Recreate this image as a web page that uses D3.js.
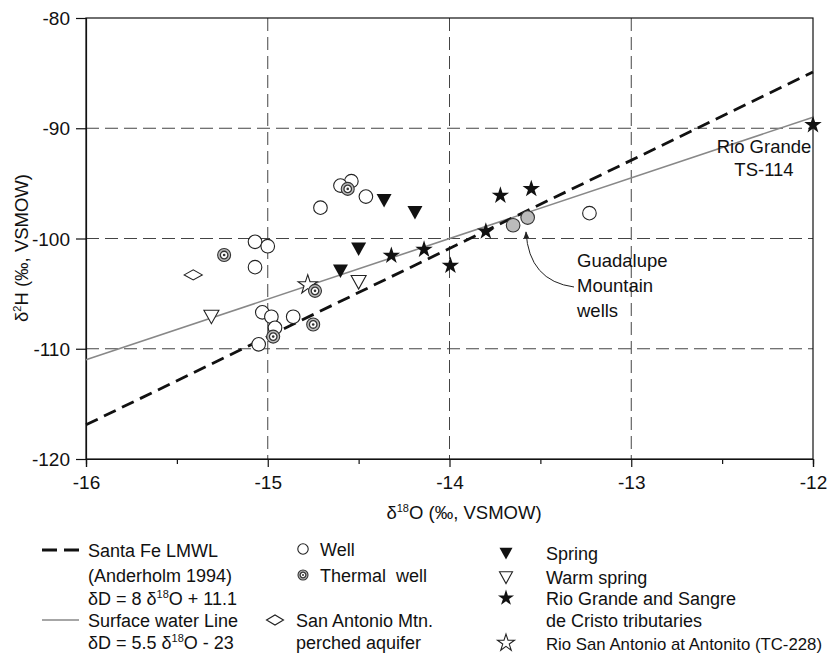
<!DOCTYPE html>
<html>
<head>
<meta charset="utf-8">
<script src="https://cdn.jsdelivr.net/npm/d3@7"></script>
<style>
body { margin: 0; background: #fff; }
svg { display: block; }
text { font-family: "Liberation Sans", Arial, sans-serif; fill: #111; }
</style>
</head>
<body>
<svg id="chart" width="832" height="663"></svg>
<script>
// ---- data ----
const xTicks = [-16, -15, -14, -13, -12];
const xMinorTicks = [-15.5, -14.5, -13.5, -12.5];
const yTicks = [-120, -110, -100, -90, -80];
const xGrid = [-15, -14, -13];
const yGrid = [-110, -100, -90];

const wells = [[-14.54,-94.8],[-14.60,-95.2],[-14.46,-96.2],[-14.71,-97.2],[-15.07,-100.3],[-15.0,-100.7],
  [-15.07,-102.6],[-15.03,-106.7],[-14.98,-107.1],[-14.86,-107.1],[-14.96,-108.1],[-15.05,-109.6],[-13.23,-97.7]];
const guadalupeWells = [[-13.65,-98.8],[-13.57,-98.1]];
const thermalWells = [[-14.56,-95.5],[-15.24,-101.5],[-14.74,-104.75],[-14.97,-108.9],[-14.75,-107.8]];
const springs = [[-14.36,-96.5],[-14.19,-97.6],[-14.50,-100.9],[-14.60,-102.9]];
const warmSprings = [[-15.31,-107.05],[-14.50,-103.9]];
const perchedAquifer = [[-15.41,-103.3]];
const tributaries = [[-14.32,-101.55],[-14.14,-101.0],[-13.995,-102.46],[-13.72,-96.1],[-13.55,-95.5],[-13.80,-99.35],[-12.0,-89.7]];
const antonito = [[-14.78,-104.2]];

// lines: [slope, intercept]
const lmwl = [8, 11.1];
const surfaceLine = [5.5, -23];

// ---- layout ----
const svg = d3.select("#chart");
const x = d3.scaleLinear().domain([-16, -12]).range([86, 813]);
const y = d3.scaleLinear().domain([-120, -80]).range([459, 18]);

// grid
const g = svg.append("g");
g.selectAll(".vg").data(xGrid).join("line")
  .attr("x1", d => x(d)).attr("x2", d => x(d)).attr("y1", y(-80)).attr("y2", y(-120))
  .attr("stroke", "#444").attr("stroke-width", 1).attr("stroke-dasharray", "13,6");
g.selectAll(".hg").data(yGrid).join("line")
  .attr("x1", x(-16)).attr("x2", x(-12)).attr("y1", d => y(d)).attr("y2", d => y(d))
  .attr("stroke", "#444").attr("stroke-width", 1).attr("stroke-dasharray", "13,6");

// frame
svg.append("rect").attr("x", x(-16)).attr("y", y(-80)).attr("width", x(-12) - x(-16)).attr("height", y(-120) - y(-80))
  .attr("fill", "none").attr("stroke", "#111").attr("stroke-width", 1.2);

// axes
const fmt = d => String(d);
const xAxis = svg.append("g").attr("transform", `translate(0,${y(-120)})`)
  .call(d3.axisBottom(x).tickValues(xTicks).tickSize(8).tickFormat(fmt));
const xMinor = svg.append("g").attr("transform", `translate(0,${y(-120)})`)
  .call(d3.axisBottom(x).tickValues(xMinorTicks).tickSize(5).tickFormat(""));
const yAxis = svg.append("g").attr("transform", `translate(${x(-16)},0)`)
  .call(d3.axisLeft(y).tickValues(yTicks).tickSize(10).tickFormat(fmt));
[xAxis, xMinor, yAxis].forEach(a => {
  a.select(".domain").attr("stroke", "#111").attr("stroke-width", 1.2);
  a.selectAll(".tick line").attr("stroke", "#111").attr("stroke-width", 1.2);
  a.selectAll("text").attr("font-size", 19).attr("font-family", "Liberation Sans, Arial, sans-serif").attr("fill", "#111");
});
xAxis.selectAll("text").attr("dy", null).attr("y", 30);
yAxis.selectAll("text").attr("x", -16).attr("dy", "0.35em");

// reference lines
const lineGen = d3.line().x(d => x(d[0])).y(d => y(d[1]));
const lineData = p => [-16, -12].map(v => [v, p[0] * v + p[1]]);
svg.append("path").datum(lineData(surfaceLine)).attr("d", lineGen)
  .attr("stroke", "#888").attr("stroke-width", 1.6).attr("fill", "none");
svg.append("path").datum(lineData(lmwl)).attr("d", lineGen)
  .attr("stroke", "#111").attr("stroke-width", 2.8).attr("fill", "none").attr("stroke-dasharray", "13,7");

// symbols
const triDown = (s) => `M${-s},${-0.8*s} L${s},${-0.8*s} L0,${s} Z`;
const diamond = (w, h) => `M${-w},0 L0,${-h} L${w},0 L0,${h} Z`;

function drawWell(sel, r) {
  sel.append("circle").attr("r", r).attr("fill", "#fff").attr("stroke", "#222").attr("stroke-width", 1.1);
}
function drawThermal(sel, r) {
  sel.append("circle").attr("r", r).attr("fill", "#bbb").attr("stroke", "#333").attr("stroke-width", 1.1);
  sel.append("circle").attr("r", r * 0.58).attr("fill", "#fff").attr("stroke", "#333").attr("stroke-width", 1.3);
  sel.append("circle").attr("r", r * 0.2).attr("fill", "#333");
}
function place(data, cls) {
  return svg.selectAll("g." + cls).data(data).join("g").attr("class", cls)
    .attr("transform", d => `translate(${x(d[0])},${y(d[1])})`);
}

place(perchedAquifer, "perch").append("path").attr("d", diamond(9, 5)).attr("fill", "#fff").attr("stroke", "#222").attr("stroke-width", 1.1);
place(warmSprings, "warm").append("path").attr("d", triDown(7.5)).attr("fill", "#fff").attr("stroke", "#222").attr("stroke-width", 1.1);
place(springs, "spring").append("path").attr("d", triDown(7.5)).attr("fill", "#111");
place(antonito, "anton").append("path").attr("d", d3.symbol(d3.symbolStar, 115)).attr("fill", "#fff").attr("stroke", "#222").attr("stroke-width", 1.1);
place(wells, "well").each(function() { drawWell(d3.select(this), 6.8); });
place(thermalWells, "therm").each(function() { drawThermal(d3.select(this), 6.5); });
place(guadalupeWells, "guad").append("circle").attr("r", 6.8).attr("fill", "#bbb").attr("stroke", "#333").attr("stroke-width", 1.1);
place(tributaries, "trib").append("path").attr("d", d3.symbol(d3.symbolStar, 95)).attr("fill", "#111");

// annotations
const ann = svg.append("g").attr("font-size", 18.5);
ann.append("text").attr("x", 764).attr("y", 153).attr("text-anchor", "middle").text("Rio Grande");
ann.append("text").attr("x", 764).attr("y", 176).attr("text-anchor", "middle").text("TS-114");
["Guadalupe", "Mountain", "wells"].forEach((t, i) => {
  ann.append("text").attr("x", 577).attr("y", 267 + i * 25).text(t);
});
svg.append("defs").append("marker").attr("id", "ah").attr("viewBox", "0 0 10 10").attr("refX", 9).attr("refY", 5)
  .attr("markerWidth", 7).attr("markerHeight", 7).attr("orient", "auto")
  .append("path").attr("d", "M0,1 L10,5 L0,9 Z").attr("fill", "#222");
svg.append("path").attr("d", "M574,287 Q529,281 526,232").attr("fill", "none").attr("stroke", "#222")
  .attr("stroke-width", 1).attr("marker-end", "url(#ah)");

// axis titles
const xt = svg.append("text").attr("x", 464).attr("y", 519).attr("text-anchor", "middle").attr("font-size", 18.5);
xt.append("tspan").text("δ");
xt.append("tspan").attr("font-size", 11).attr("dy", -7).text("18");
xt.append("tspan").attr("dy", 7).text("O (‰, VSMOW)");
const yt = svg.append("text").attr("transform", "translate(28,248) rotate(-90)").attr("text-anchor", "middle").attr("font-size", 18.5);
yt.append("tspan").text("δ");
yt.append("tspan").attr("font-size", 11).attr("dy", -7).text("2");
yt.append("tspan").attr("dy", 7).text("H (‰, VSMOW)");

// legend
const lg = svg.append("g").attr("font-size", 18);
function ltext(xp, yc, parts) {
  const t = lg.append("text").attr("x", xp).attr("y", yc + 6.5);
  parts.forEach(p => {
    if (typeof p === "object") {
      t.append("tspan").attr("font-size", 11).attr("dy", -7).text(p.s);
      t.append("tspan").attr("dy", 7).text(p.after);
    } else t.append("tspan").text(p);
  });
  return t;
}
lg.append("line").attr("x1", 42).attr("x2", 79).attr("y1", 550).attr("y2", 550)
  .attr("stroke", "#111").attr("stroke-width", 2.8).attr("stroke-dasharray", "15,7");
ltext(88, 550, ["Santa Fe LMWL"]);
ltext(88, 575, ["(Anderholm 1994)"]);
ltext(88, 598, ["δD = 8 δ", {s: "18", after: "O + 11.1"}]);
lg.append("line").attr("x1", 42).attr("x2", 79).attr("y1", 620).attr("y2", 620)
  .attr("stroke", "#888").attr("stroke-width", 1.6);
ltext(88, 620, ["Surface water Line"]);
ltext(88, 642, ["δD = 5.5 δ", {s: "18", after: "O - 23"}]);

drawWell(lg.append("g").attr("transform", "translate(303,549)"), 5.2);
ltext(320, 549, ["Well"]);
drawThermal(lg.append("g").attr("transform", "translate(303,575)"), 5);
ltext(320, 575, ["Thermal\u00A0 well"]);
lg.append("path").attr("transform", "translate(275,620)").attr("d", diamond(8.5, 5)).attr("fill", "#fff").attr("stroke", "#222").attr("stroke-width", 1.1);
ltext(296, 620, ["San Antonio Mtn."]);
ltext(296, 642, ["perched aquifer"]);

lg.append("path").attr("transform", "translate(506,553)").attr("d", triDown(6.5)).attr("fill", "#111");
ltext(546, 553, ["Spring"]);
lg.append("path").attr("transform", "translate(506,577)").attr("d", triDown(6.5)).attr("fill", "#fff").attr("stroke", "#222").attr("stroke-width", 1.1);
ltext(546, 577, ["Warm spring"]);
lg.append("path").attr("transform", "translate(506,598)").attr("d", d3.symbol(d3.symbolStar, 80)).attr("fill", "#111");
ltext(546, 598, ["Rio Grande and Sangre"]);
ltext(546, 620, ["de Cristo tributaries"]);
lg.append("path").attr("transform", "translate(506,643)").attr("d", d3.symbol(d3.symbolStar, 90)).attr("fill", "#fff").attr("stroke", "#222").attr("stroke-width", 1.1);
ltext(546, 643, ["Rio San Antonio at Antonito (TC-228)"]).attr("font-size", 17)
  .attr("textLength", 276).attr("lengthAdjust", "spacingAndGlyphs");
</script>
</body>
</html>
